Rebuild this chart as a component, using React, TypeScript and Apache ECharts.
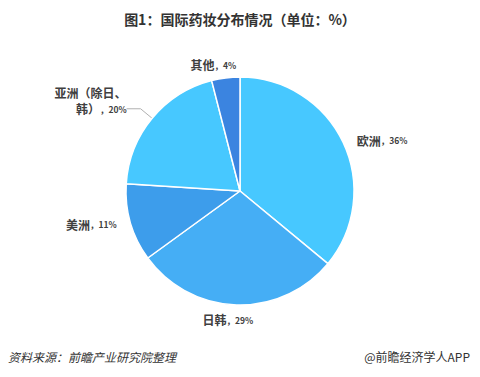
import React, { useEffect, useRef } from "react";
import * as echarts from "echarts";

const names = ["欧洲", "日韩", "美洲", "亚洲（除日、\n韩）", "其他"];
const values = [36, 29, 11, 20, 4];
const colors = ["#47c8ff", "#45aef5", "#3d9deb", "#47c8ff", "#3b84e0"];
const titleText = "图1：国际药妆分布情况（单位：%）";
const sourceText = "资料来源：前瞻产业研究院整理";
const brandText = "@前瞻经济学人APP";

const FONT = "'Noto Sans CJK SC', 'Noto Sans', sans-serif";

export default function App() {
  const ref = useRef<HTMLDivElement>(null);
  useEffect(() => {
    if (!ref.current) return;
    const chart = echarts.init(ref.current, null, { renderer: "svg" });
    const data = names.map((n, i) => {
      const isAsia = i === 3;
      return {
        name: n,
        value: values[i],
        itemStyle: { color: colors[i] },
        labelLine: isAsia
          ? { show: true, length: 15, length2: 14, lineStyle: { color: "#b0b0b0", width: 1 } }
          : { show: false, length: 5, length2: 4 },
        label: isAsia ? { padding: [0, 0, 16, 0] } : {},
      };
    });
    const offsets: Record<number, [number, number]> = {
      1: [26, 10],
      3: [5, 0],
      4: [20, -8],
    };
    chart.setOption({
      animation: false,
      backgroundColor: "#ffffff",
      title: {
        text: titleText,
        left: "center",
        top: 7,
        textStyle: { fontFamily: FONT, fontSize: 14, fontWeight: "bold", color: "#333333" },
      },
      graphic: [
        {
          type: "text",
          left: 8,
          top: 350,
          style: { text: sourceText, font: `italic 12px ${FONT}`, fill: "#333333" },
        },
        {
          type: "text",
          right: 10,
          top: 350,
          style: { text: brandText, font: `12px ${FONT}`, fill: "#333333" },
        },
      ],
      series: [
        {
          type: "pie",
          center: [240, 191],
          radius: 114,
          startAngle: 90,
          clockwise: true,
          itemStyle: { borderColor: "#ffffff", borderWidth: 1.5 },
          label: {
            show: true,
            position: "outside",
            fontFamily: FONT,
            formatter: (p: any) => {
              const parts = String(p.name).split("\n");
              const last = parts.pop();
              const head = parts.map((s) => `{n|${s}}`).join("\n");
              return (head ? head + "\n" : "") + `{n|${last}}{v|，${p.value}%}`;
            },
            rich: {
              n: { fontFamily: FONT, fontSize: 12, fontWeight: "bold", color: "#404040", lineHeight: 16 },
              v: { fontFamily: FONT, fontSize: 8.5, fontWeight: "bold", color: "#404040", lineHeight: 16 },
            },
          },
          labelLine: { show: false, length: 5, length2: 4 },
          labelLayout: (params: any) => {
            const o = offsets[params.dataIndex];
            return o ? { dx: o[0], dy: o[1] } : {};
          },
          emphasis: { disabled: true },
          data,
        },
      ],
    });
    return () => chart.dispose();
  }, []);
  return (
    <div style={{ position: "absolute", left: 0, top: 0 }}>
      <div ref={ref} style={{ width: 480, height: 377 }} />
    </div>
  );
}
